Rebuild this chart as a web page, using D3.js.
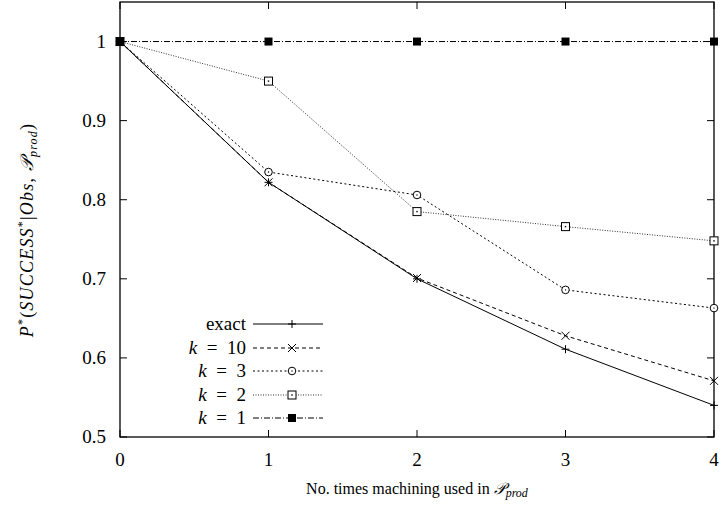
<!DOCTYPE html>
<html>
<head>
<meta charset="utf-8">
<script src="https://cdn.jsdelivr.net/npm/d3@7"></script>
<style>
  body { margin: 0; background: #fff; }
  svg text { font-family: "Liberation Serif", "Times New Roman", serif; fill: #000; }
</style>
</head>
<body>
<svg id="chart" width="722" height="510"></svg>
<script>
var xs = [0, 1, 2, 3, 4];
var exact = [1, 0.822, 0.700, 0.611, 0.540];
var k10 = [1, 0.822, 0.701, 0.628, 0.571];
var k3 = [1, 0.835, 0.806, 0.686, 0.663];
var k2 = [1, 0.950, 0.785, 0.766, 0.748];
var k1 = [1, 1, 1, 1, 1];
var xTicks = [0, 1, 2, 3, 4];
var yTicks = [0.5, 0.6, 0.7, 0.8, 0.9, 1];
var yTickLabels = ['0.5', '0.6', '0.7', '0.8', '0.9', '1'];

var series = [
  { name: 'exact', values: exact, dash: null, marker: 'plus', color: '#000' },
  { name: 'k10', values: k10, dash: '4,3', marker: 'cross', color: '#000' },
  { name: 'k3', values: k3, dash: '2,2.5', marker: 'circle', color: '#000' },
  { name: 'k2', values: k2, dash: '1,1.5', marker: 'box', color: '#333' },
  { name: 'k1', values: k1, dash: '6,2,1,2', marker: 'fbox', color: '#000' }
];

var svg = d3.select('#chart');
var pL = 120, pR = 714, pT = 2, pB = 437;

var x = d3.scaleLinear().domain([0, 4]).range([pL, pR]);
var y = d3.scaleLinear().domain([0.5, 1.05]).range([pB, pT]);

// ticks, drawn inward on all four sides
var tk = 7;
xTicks.forEach(function (t) {
  svg.append('line').attr('x1', x(t)).attr('x2', x(t)).attr('y1', pB).attr('y2', pB - tk).attr('stroke', '#000');
  svg.append('line').attr('x1', x(t)).attr('x2', x(t)).attr('y1', pT).attr('y2', pT + tk).attr('stroke', '#000');
  svg.append('text').attr('x', x(t)).attr('y', 466).attr('text-anchor', 'middle')
    .attr('font-size', 19).text(t);
});
yTicks.forEach(function (t, i) {
  svg.append('line').attr('x1', pL).attr('x2', pL + tk).attr('y1', y(t)).attr('y2', y(t)).attr('stroke', '#000');
  svg.append('line').attr('x1', pR).attr('x2', pR - tk).attr('y1', y(t)).attr('y2', y(t)).attr('stroke', '#000');
  svg.append('text').attr('x', 106).attr('y', y(t) + 6).attr('text-anchor', 'end')
    .attr('font-size', 19).text(yTickLabels[i]);
});

// frame
svg.append('rect').attr('x', pL).attr('y', pT).attr('width', pR - pL).attr('height', pB - pT)
  .attr('fill', 'none').attr('stroke', '#000').attr('stroke-width', 1.3);

var drawMarker = function (g, type, cx, cy) {
  var s = 4;
  if (type === 'plus') {
    g.append('path').attr('d', 'M' + (cx - s) + ',' + cy + 'H' + (cx + s) + 'M' + cx + ',' + (cy - s) + 'V' + (cy + s))
      .attr('stroke', '#000').attr('fill', 'none');
  } else if (type === 'cross') {
    g.append('path').attr('d', 'M' + (cx - s) + ',' + (cy - s) + 'L' + (cx + s) + ',' + (cy + s) + 'M' + (cx - s) + ',' + (cy + s) + 'L' + (cx + s) + ',' + (cy - s))
      .attr('stroke', '#000').attr('fill', 'none');
  } else if (type === 'circle') {
    g.append('circle').attr('cx', cx).attr('cy', cy).attr('r', 3.8).attr('stroke', '#000').attr('fill', '#fff');
    g.append('circle').attr('cx', cx).attr('cy', cy).attr('r', 0.7).attr('fill', '#000');
  } else if (type === 'box') {
    g.append('rect').attr('x', cx - 4).attr('y', cy - 4).attr('width', 8).attr('height', 8).attr('stroke', '#000').attr('fill', '#fff');
    g.append('rect').attr('x', cx - 0.7).attr('y', cy - 0.7).attr('width', 1.4).attr('height', 1.4).attr('fill', '#000');
  } else if (type === 'fbox') {
    g.append('rect').attr('x', cx - 4).attr('y', cy - 4).attr('width', 8).attr('height', 8).attr('fill', '#000');
  }
};

var line = d3.line().x(function (d, i) { return x(xs[i]); }).y(function (d) { return y(d); });

series.forEach(function (s) {
  var g = svg.append('g');
  g.append('path').attr('d', line(s.values)).attr('fill', 'none').attr('stroke', s.color)
    .attr('stroke-width', 1).attr('stroke-dasharray', s.dash);
  s.values.forEach(function (v, i) { drawMarker(g, s.marker, x(xs[i]), y(v)); });
});

// legend
var legY = [324, 348, 371, 395, 418];
var eq = '\u2002=\u2002';
var legLabels = [
  [['exact', false]],
  [['k', true], [eq + '10', false]],
  [['k', true], [eq + '3', false]],
  [['k', true], [eq + '2', false]],
  [['k', true], [eq + '1', false]]
];
series.forEach(function (s, i) {
  var t = svg.append('text').attr('x', 246).attr('y', legY[i] + 6).attr('text-anchor', 'end').attr('font-size', 19);
  legLabels[i].forEach(function (p) {
    t.append('tspan').attr('font-style', p[1] ? 'italic' : null).text(p[0]);
  });
  svg.append('line').attr('x1', 253).attr('x2', 323).attr('y1', legY[i]).attr('y2', legY[i])
    .attr('stroke', s.color).attr('stroke-dasharray', s.dash);
  drawMarker(svg, s.marker, 292, legY[i]);
});

// axis titles
var xl = svg.append('text').attr('x', 417).attr('y', 494).attr('text-anchor', 'middle')
  .attr('font-size', 16);
xl.append('tspan').text('No. times machining used in ');
xl.append('tspan').attr('font-style', 'italic').text('\u{1D4AB}');
xl.append('tspan').attr('font-style', 'italic').attr('font-size', 12).attr('dy', 3).text('prod');

var yl = svg.append('text').attr('transform', 'translate(33,230) rotate(-90)')
  .attr('text-anchor', 'middle').attr('font-size', 18).attr('letter-spacing', 1.2);
yl.append('tspan').attr('font-style', 'italic').text('P');
yl.append('tspan').attr('font-size', 12).attr('dy', -7).text('*');
yl.append('tspan').attr('dy', 7).text('(');
yl.append('tspan').attr('font-style', 'italic').text('SUCCESS');
yl.append('tspan').attr('font-size', 12).attr('dy', -7).text('*');
yl.append('tspan').attr('dy', 7).text('|');
yl.append('tspan').attr('font-style', 'italic').text('Obs');
yl.append('tspan').text(', ');
yl.append('tspan').attr('font-style', 'italic').text('\u{1D4AB}');
yl.append('tspan').attr('font-style', 'italic').attr('font-size', 12).attr('dy', 4).text('prod');
yl.append('tspan').attr('dy', -4).text(')');
</script>
</body>
</html>
